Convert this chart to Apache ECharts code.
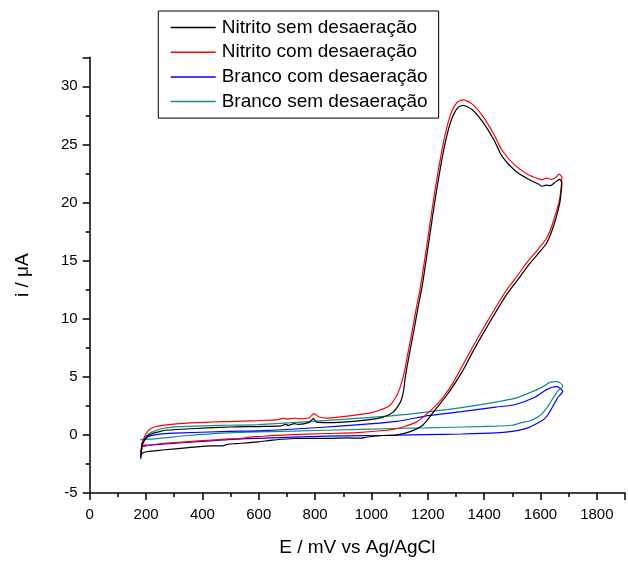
<!DOCTYPE html>
<html>
<head>
<meta charset="utf-8">
<script src="https://cdn.jsdelivr.net/npm/echarts@6/dist/echarts.min.js"></script>
<style>
html,body{margin:0;padding:0;background:#fff;}
#chart{width:628px;height:562px;}
</style>
</head>
<body>
<div id="chart"></div>
<script>
// Series names (legend)
const seriesNames = ["Nitrito sem desaeração", "Nitrito com desaeração", "Branco com desaeração", "Branco sem desaeração"];

// [E (mV), i (µA)], as closed loops
const nitritoSem = [
  [182,-1.9],[185,-0.9],[195,-0.4],[205,-0.1],[223,0.12],[250,0.3],[270,0.4],[375,0.55],[500,0.68],[598,0.72],
  [679,0.77],[695,0.9],[705,0.82],[726,0.97],[740,0.9],[779,1.08],[794,1.4],[805,1.1],[843,1.06],[937,1.17],
  [1019,1.4],[1050,1.6],[1077,1.96],[1095,2.5],[1106,3.0],[1114,3.8],[1121,5.1],[1135,7.0],[1150,8.9],[1165,10.9],
  [1180,12.8],[1200,16.0],[1227,20.4],[1258,24.7],[1282,27.0],[1305,28.13],[1325,28.36],[1358,27.99],[1393,27.0],[1434,25.43],
  [1463,24.0],[1510,22.73],[1557,22.0],[1592,21.6],[1605,21.4],[1620,21.5],[1635,21.45],[1650,21.7],[1668,22.0],[1676,21.65],
  [1672,20.6],[1668,19.9],[1656,18.75],[1639,17.47],[1621,16.47],[1592,15.6],[1557,14.6],[1527,13.6],[1475,11.9],[1405,9.08],
  [1358,7.08],[1334,5.95],[1311,5.0],[1270,3.5],[1229,2.25],[1182,0.83],[1135,0.26],[1089,0.0],[1040,-0.05],[980,-0.2],
  [965,-0.28],[913,-0.26],[850,-0.3],[726,-0.31],[650,-0.45],[598,-0.6],[520,-0.75],[492,-0.8],[470,-0.94],[434,-0.94],
  [350,-1.1],[258,-1.3],[200,-1.45],[185,-1.6],[182,-1.9]
];
const nitritoCom = [
  [182,-1.6],[188,-0.6],[200,0.12],[217,0.55],[247,0.77],[317,0.97],[434,1.11],[492,1.15],[598,1.23],[668,1.31],
  [690,1.45],[700,1.35],[714,1.4],[730,1.45],[740,1.38],[779,1.48],[796,1.83],[814,1.54],[843,1.45],[937,1.68],
  [1007,1.96],[1065,2.53],[1090,3.4],[1100,3.96],[1108,4.6],[1115,5.2],[1130,7.1],[1145,9.0],[1160,11.0],[1175,12.9],
  [1196,16.2],[1222,20.5],[1255,25.1],[1280,27.5],[1303,28.6],[1325,28.84],[1358,28.47],[1393,27.5],[1434,25.9],[1463,24.5],
  [1510,23.2],[1557,22.4],[1592,22.05],[1605,21.95],[1620,22.1],[1640,22.0],[1656,22.2],[1665,22.44],[1676,22.2],
  [1672,21.0],[1668,20.3],[1656,19.2],[1639,17.9],[1621,16.9],[1592,16.0],[1557,15.0],[1527,14.0],[1475,12.3],[1405,9.5],
  [1358,7.5],[1323,5.95],[1290,4.5],[1250,3.1],[1206,2.0],[1159,1.1],[1112,0.68],[1089,0.55],[1054,0.4],[950,0.2],
  [843,0.12],[700,0.0],[598,-0.14],[560,-0.2],[540,-0.3],[492,-0.35],[400,-0.5],[258,-0.74],[200,-0.95],[188,-1.02],[182,-1.6]
];
const brancoCom = [
  [181,-2.07],[183,-1.2],[190,-0.95],[200,-0.88],[258,-0.8],[400,-0.55],[492,-0.4],[598,-0.3],[843,-0.1],[1089,-0.03],
  [1194,0.03],[1320,0.08],[1441,0.17],[1500,0.3],[1533,0.45],[1560,0.65],[1580,0.89],[1600,1.15],[1615,1.4],[1628,1.8],
  [1639,2.25],[1652,2.8],[1662,3.24],[1672,3.5],[1679,3.73],[1668,4.05],[1656,4.16],[1640,4.1],[1632,4.01],[1615,3.81],
  [1580,3.24],[1511,2.62],[1441,2.39],[1320,2.0],[1206,1.68],[1089,1.17],[843,0.68],[598,0.35],[492,0.3],[300,0.15],
  [247,0.06],[206,-0.17],[190,-0.7],[182,-1.5]
];
const brancoSem = [
  [180,-0.4],[200,-0.38],[247,-0.3],[350,-0.05],[492,0.17],[598,0.26],[843,0.4],[1089,0.55],[1194,0.6],[1323,0.68],
  [1440,0.76],[1498,0.83],[1533,1.06],[1560,1.2],[1580,1.4],[1600,1.7],[1615,2.1],[1628,2.5],[1639,2.96],[1652,3.45],
  [1662,3.81],[1672,4.0],[1679,4.18],[1668,4.5],[1656,4.58],[1642,4.56],[1632,4.5],[1615,4.24],[1580,3.81],[1511,3.16],
  [1441,2.82],[1320,2.35],[1206,2.0],[1089,1.68],[843,1.25],[598,0.89],[492,0.83],[434,0.8],[317,0.72],[258,0.55],
  [217,0.2],[200,-0.1],[188,-0.55],[183,-0.9]
];

const xTickLabels = [0,200,400,600,800,1000,1200,1400,1600,1800];
const yTickLabels = [-5,0,5,10,15,20,25,30];

const colors = ['#000000', '#ff0000', '#0000ff', '#128b8b'];
const seriesData = [nitritoSem, nitritoCom, brancoCom, brancoSem];

const FONT = 'Liberation Sans, Arial, sans-serif';
const chart = echarts.init(document.getElementById('chart'), null, {renderer: 'canvas'});

const axisCommon = {
  axisLine: {show: true, onZero: false, lineStyle: {color: '#000', width: 1.5}},
  axisTick: {show: true, inside: false, length: 7, lineStyle: {color: '#000', width: 1.5}},
  minorTick: {show: true, splitNumber: 2, length: 4, lineStyle: {color: '#000', width: 1.5}},
  splitLine: {show: false},
  minorSplitLine: {show: false}
};

chart.setOption({
  animation: false,
  backgroundColor: '#fff',
  grid: {left: 89.7, right: -3.2, top: 57.3, bottom: 64, containLabel: false},
  legend: {
    show: true,
    orient: 'vertical',
    left: 158.3,
    top: 11,
    padding: [6.5, 11, 6.5, 12.4],
    itemGap: 4.7,
    itemWidth: 45,
    itemHeight: 1.5,
    icon: 'rect',
    borderColor: '#000',
    borderWidth: 1,
    backgroundColor: '#fff',
    textStyle: {fontFamily: FONT, fontSize: 19, color: '#000', lineHeight: 20, padding: [0,0,0,1]},
    data: seriesNames
  },
  xAxis: Object.assign({
    type: 'value',
    min: 0, max: 1900, interval: 200,
    name: 'E / mV vs Ag/AgCl',
    nameLocation: 'middle',
    nameGap: 45,
    nameTextStyle: {fontFamily: FONT, fontSize: 19, color: '#000'},
    axisLabel: {
      fontFamily: FONT, fontSize: 15, color: '#000', margin: 14, hideOverlap: false,
      formatter: v => xTickLabels.indexOf(v) >= 0 ? String(v) : ''
    }
  }, axisCommon),
  yAxis: Object.assign({
    type: 'value',
    min: -5, max: 32.5, interval: 5,
    name: 'i / \u03bcA',
    nameLocation: 'middle',
    nameGap: 57,
    nameRotate: 90,
    nameTextStyle: {fontFamily: FONT, fontSize: 19, color: '#000', padding: [0, 0, 0, 0]},
    axisLabel: {
      fontFamily: FONT, fontSize: 15, color: '#000', margin: 12, hideOverlap: false,
      formatter: v => yTickLabels.indexOf(v) >= 0 ? String(v) : ''
    }
  }, axisCommon),
  series: seriesNames.map((n, k) => ({
    name: n,
    type: 'line',
    data: seriesData[k],
    showSymbol: false,
    symbol: 'none',
    smooth: 0.25,
    clip: false,
    color: colors[k],
    lineStyle: {color: colors[k], width: 1.2},
    z: 10 - k
  }))
});
</script>
</body>
</html>
